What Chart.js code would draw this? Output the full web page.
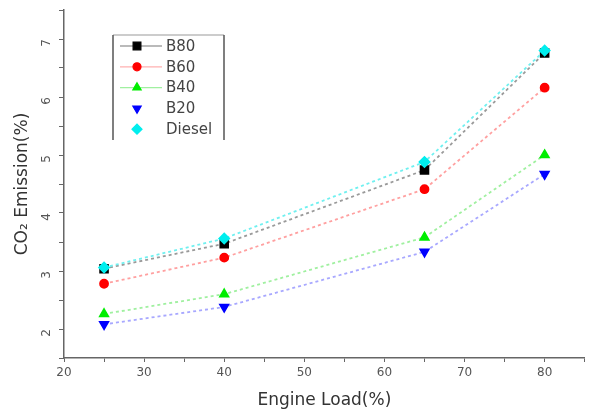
<!DOCTYPE html>
<html>
<head>
<meta charset="utf-8">
<script src="https://cdn.jsdelivr.net/npm/chart.js@4.4.1/dist/chart.umd.min.js"></script>
<style>
  html, body { margin: 0; padding: 0; background: #fff; }
  #wrap { width: 592px; height: 411px; position: relative; }
</style>
</head>
<body>
<div id="wrap"><canvas id="co2Chart"></canvas></div>
<script>
// engine load (%) and CO2 emission (%)
const engineLoad = [25, 40, 65, 80];
const b80 = [3.04, 3.47, 4.74, 6.76];
const b60 = [2.78, 3.23, 4.41, 6.16];
const b40 = [2.26, 2.60, 3.58, 5.00];
const b20 = [2.08, 2.38, 3.33, 4.67];
const diesel = [3.06, 3.56, 4.88, 6.80];

const xTickLabels = [20, 30, 40, 50, 60, 70, 80];
const yTickLabels = [2, 3, 4, 5, 6, 7];

const seriesNames = ['B80', 'B60', 'B40', 'B20', 'Diesel'];

function toPoints(values) {
    return values.map((v, i) => ({x: engineLoad[i], y: v}));
}

const font = "'DejaVu Sans', Verdana, sans-serif";

// legend drawn as a framed box like the original plot
const boxLegend = {
    id: 'boxLegend',
    afterDraw(chart) {
        const ctx = chart.ctx;
        const left = 113, top = 35, right = 224, bottom = 140;
        ctx.save();
        ctx.fillStyle = '#fff';
        ctx.fillRect(left, top, right - left, bottom - top);
        ctx.strokeStyle = '#999';
        ctx.lineWidth = 1;
        ctx.beginPath();
        ctx.moveTo(left, top);
        ctx.lineTo(right, top);
        ctx.stroke();
        ctx.strokeStyle = '#555';
        ctx.lineWidth = 1.5;
        ctx.beginPath();
        ctx.moveTo(left, top);
        ctx.lineTo(left, bottom);
        ctx.moveTo(right, top);
        ctx.lineTo(right, bottom);
        ctx.stroke();
        chart.data.datasets.slice().sort((a, b) => a.legendIndex - b.legendIndex).forEach((ds, i) => {
            const y = 46 + i * 20.8;
            if (ds.legendLine) {
                ctx.strokeStyle = ds.legendLineColor;
                ctx.lineWidth = 1.2;
                ctx.setLineDash([]);
                ctx.beginPath();
                ctx.moveTo(120, y);
                ctx.lineTo(162, y);
                ctx.stroke();
            }
            ctx.fillStyle = ds.pointBackgroundColor;
            ctx.strokeStyle = ds.pointBorderColor;
            Chart.helpers.drawPoint(ctx, {
                pointStyle: ds.pointStyle,
                rotation: ds.pointRotation || 0,
                radius: ds.pointRadius,
                borderWidth: 1
            }, 137, y);
            ctx.fillStyle = '#444';
            ctx.font = '15px ' + font;
            ctx.textAlign = 'left';
            ctx.textBaseline = 'middle';
            ctx.fillText(ds.label, 166, y + 1);
        });
        ctx.restore();
    }
};

const datasets = [
    {label: 'B80', data: toPoints(b80), borderColor: '#9a9a9a', legendLineColor: '#777', pointStyle: 'rect', pointBackgroundColor: '#000', pointBorderColor: '#000', pointRadius: 5.5, legendLine: true, order: 2},
    {label: 'B60', data: toPoints(b60), borderColor: '#ffa0a0', legendLineColor: '#ffb0b0', pointStyle: 'circle', pointBackgroundColor: '#ff0000', pointBorderColor: '#ff0000', pointRadius: 4, legendLine: true, order: 3},
    {label: 'B40', data: toPoints(b40), borderColor: '#a0f0a0', legendLineColor: '#a0f0a0', pointStyle: 'triangle', pointBackgroundColor: '#00ee00', pointBorderColor: '#00ee00', pointRadius: 4.8, legendLine: true, order: 4},
    {label: 'B20', data: toPoints(b20), borderColor: '#a8a8ff', legendLineColor: '#a8a8ff', pointStyle: 'triangle', pointRotation: 180, pointBackgroundColor: '#0000ff', pointBorderColor: '#0000ff', pointRadius: 4.8, legendLine: false, order: 5},
    {label: 'Diesel', data: toPoints(diesel), borderColor: '#70f0f0', legendLineColor: '#70f0f0', pointStyle: 'rectRot', pointBackgroundColor: '#00eeee', pointBorderColor: '#00eeee', pointRadius: 5, legendLine: false, order: 1}
];
datasets.forEach((ds) => {
    ds.legendIndex = seriesNames.indexOf(ds.label);
    ds.borderWidth = 1.8;
    ds.borderDash = [3, 3];
    ds.fill = false;
    ds.tension = 0;
});

const ctx = document.getElementById('co2Chart').getContext('2d');
window.chart = new Chart(ctx, {
    type: 'line',
    data: {datasets: datasets},
    options: {
        responsive: true,
        maintainAspectRatio: false,
        animation: false,
        layout: {padding: {top: 10, right: 3, left: 0, bottom: 0}},
        plugins: {
            legend: {display: false},
            tooltip: {enabled: false}
        },
        scales: {
            x: {
                type: 'linear',
                min: 20,
                max: 85,
                afterFit: (scale) => {
                    scale.height = 53;
                    scale.paddingLeft = 0;
                    scale.paddingRight = 0;
                },
                border: {color: '#666', width: 1.5},
                grid: {drawOnChartArea: false, drawTicks: true, tickLength: 4, color: '#666'},
                ticks: {
                    stepSize: 5,
                    padding: 4,
                    color: '#555',
                    font: {family: font, size: 12},
                    callback: (v) => xTickLabels.includes(v) ? String(v) : ''
                },
                title: {
                    display: true,
                    text: 'Engine Load(%)',
                    color: '#333',
                    font: {family: font, size: 17},
                    padding: {top: 4, bottom: 0}
                }
            },
            y: {
                min: 1.5,
                max: 7.5,
                afterFit: (scale) => {
                    scale.width = 64;
                    scale.paddingTop = 0;
                    scale.paddingBottom = 0;
                },
                border: {color: '#666', width: 1.5},
                grid: {drawOnChartArea: false, drawTicks: true, tickLength: 5, color: '#666'},
                ticks: {
                    stepSize: 0.5,
                    padding: 12,
                    minRotation: 90,
                    maxRotation: 90,
                    color: '#555',
                    font: {family: font, size: 12},
                    callback: (v) => yTickLabels.includes(v) ? String(v) : ''
                },
                title: {
                    display: true,
                    text: 'CO₂ Emission(%)',
                    color: '#333',
                    font: {family: font, size: 17},
                    padding: {top: 12, bottom: 4}
                }
            }
        }
    },
    plugins: [boxLegend]
});
</script>
</body>
</html>
